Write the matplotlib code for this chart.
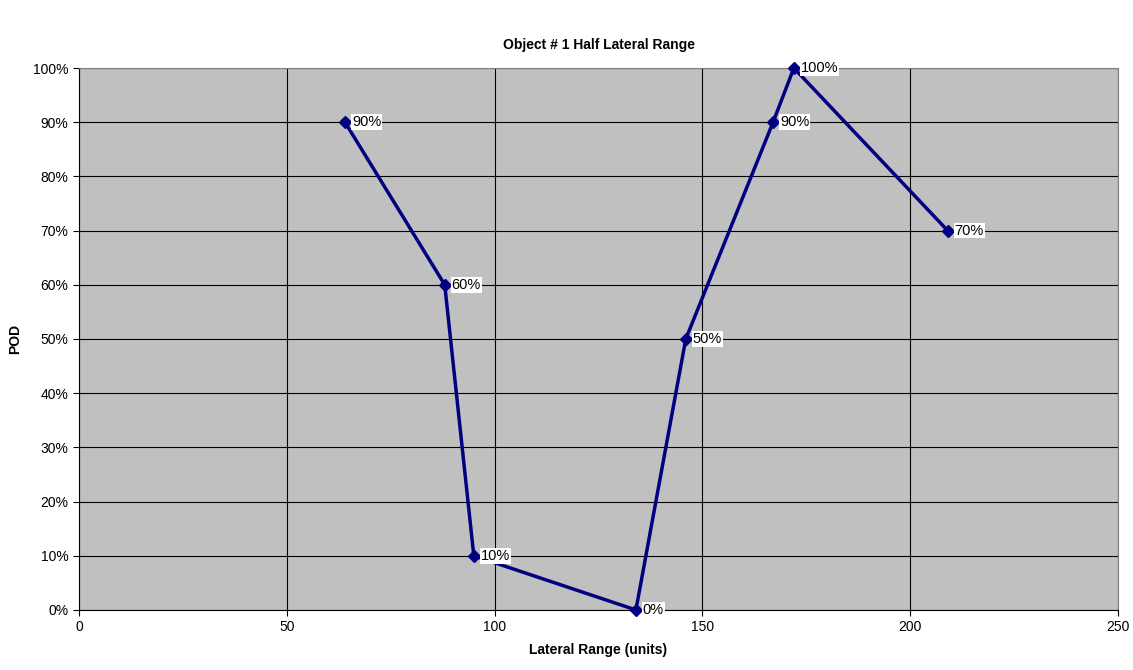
import matplotlib
matplotlib.use("Agg")
import matplotlib.pyplot as plt
from matplotlib.ticker import FuncFormatter

plt.rcParams['font.family'] = ['Liberation Sans', 'DejaVu Sans']

# data
lateral_range = [64, 88, 95, 134, 146, 167, 172, 209]
pod = [90, 60, 10, 0, 50, 90, 100, 70]
labels = ["90%", "60%", "10%", "0%", "50%", "90%", "100%", "70%"]

fig = plt.figure(figsize=(11.33, 6.7), dpi=100)
ax = fig.add_axes([0.0697, 0.0896, 0.9171, 0.8089])
ax.set_facecolor("#C0C0C0")

ax.plot(lateral_range, pod, color="#000080", linewidth=2.5, marker="D",
        markersize=6.5, zorder=3, clip_on=False)

for x, y, t in zip(lateral_range, pod, labels):
    ax.annotate(t, (x, y), xytext=(5, 0), textcoords="offset points",
                va="center", ha="left", fontsize=10.5, zorder=4,
                bbox=dict(boxstyle="square,pad=0.05", fc="white", ec="none"))

ax.set_xlim(0, 250)
ax.set_ylim(0, 100)
ax.set_xticks([0, 50, 100, 150, 200, 250])
ax.set_yticks(range(0, 101, 10))
ax.yaxis.set_major_formatter(FuncFormatter(lambda v, p: "%d%%" % v))
ax.grid(True, color="black", linewidth=0.8, zorder=1)
ax.set_axisbelow(True)
ax.tick_params(direction="out", length=4, labelsize=10, color="black")

for s in ["top", "right"]:
    ax.spines[s].set_color("#808080")
for s in ["left", "bottom"]:
    ax.spines[s].set_color("black")

ax.set_title("Object # 1 Half Lateral Range", fontsize=10, fontweight="bold", pad=14)
ax.set_xlabel("Lateral Range (units)", fontsize=10, fontweight="bold", labelpad=6)
ax.set_ylabel("POD", fontsize=10, fontweight="bold", labelpad=8)

fig.savefig("out.png", dpi=100)
